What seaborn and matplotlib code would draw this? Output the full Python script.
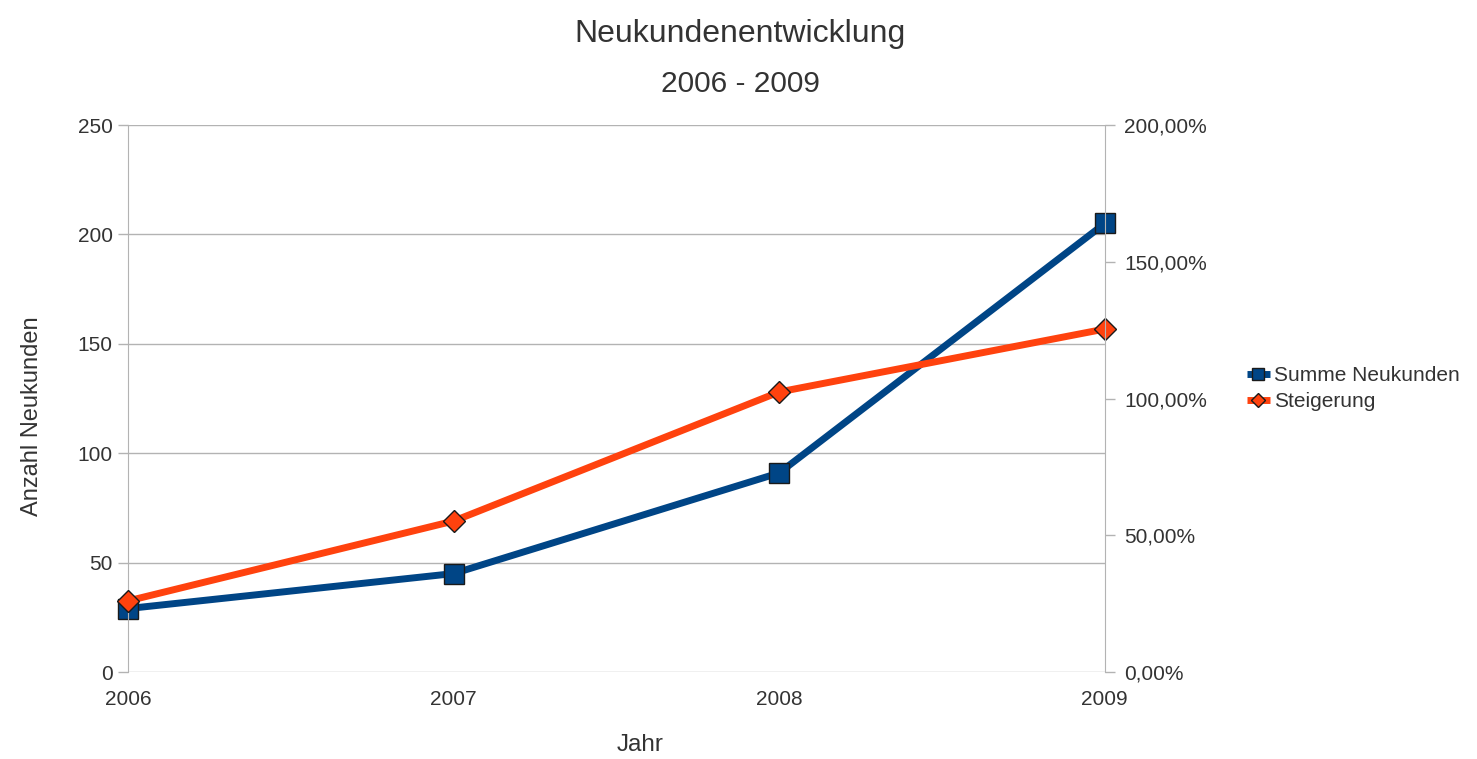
import matplotlib
matplotlib.use("Agg")
import matplotlib.pyplot as plt
import pandas as pd
import seaborn as sns
from matplotlib.ticker import FuncFormatter

# Data
jahre = [2006, 2007, 2008, 2009]
summe_neukunden = [29, 45, 91, 205]
steigerung = [26.0, 55.2, 102.4, 125.4]  # percent

df = pd.DataFrame({'Jahr': jahre, 'Summe Neukunden': summe_neukunden, 'Steigerung': steigerung})

blue = '#004586'
orange = '#ff420e'
grid_col = '#b3b3b3'
text_col = '#333333'

sns.set_style('white')
plt.rcParams['font.family'] = ['Liberation Sans', 'DejaVu Sans']

fig = plt.figure(figsize=(14.77, 7.59), dpi=100)
ax = fig.add_axes([0.0867, 0.1146, 0.6613, 0.7207])
ax2 = ax.twinx()

sns.lineplot(data=df, x='Jahr', y='Summe Neukunden', ax=ax, color=blue, lw=5,
             marker='s', markersize=14, markeredgecolor='#1a1a1a', markeredgewidth=1,
             label='Summe Neukunden', legend=False, clip_on=False, solid_capstyle='butt')
sns.lineplot(data=df, x='Jahr', y='Steigerung', ax=ax2, color=orange, lw=5,
             marker='D', markersize=11, markeredgecolor='#1a1a1a', markeredgewidth=1,
             label='Steigerung', legend=False, clip_on=False, solid_capstyle='butt')

ax.set_xlim(2006, 2009)
ax.set_ylim(0, 250)
ax2.set_ylim(0, 200)
ax.set_xticks(jahre)
ax.set_xticklabels([str(j) for j in jahre])
ax.set_yticks(range(0, 251, 50))
ax2.set_yticks(range(0, 201, 50))
ax2.yaxis.set_major_formatter(FuncFormatter(lambda v, p: f'{v:.2f}%'.replace('.', ',')))

ax.grid(axis='y', color=grid_col, lw=1)
ax.set_axisbelow(True)
for a in (ax, ax2):
    for s in a.spines.values():
        s.set_visible(False)
    a.tick_params(colors=grid_col, labelcolor=text_col, labelsize=15, length=7, width=1)
ax.spines['left'].set_visible(True)
ax.spines['left'].set_color(grid_col)
ax2.spines['right'].set_visible(True)
ax2.spines['right'].set_color(grid_col)
ax.tick_params(axis='x', direction='out', pad=6)
ax.tick_params(axis='y', pad=4)
ax2.tick_params(axis='y', pad=7)

ax.set_xlabel('Jahr', fontsize=17.5, color=text_col)
ax.xaxis.set_label_coords(0.524, -0.113)
ax.set_ylabel('Anzahl Neukunden', fontsize=17, color=text_col)
ax.yaxis.set_label_coords(-0.087, 0.468)
ax2.set_ylabel('')

fig.text(0.501, 0.9447, 'Neukundenentwicklung', ha='center', va='baseline', fontsize=23, color=text_col)
fig.text(0.501, 0.8788, '2006 - 2009', ha='center', va='baseline', fontsize=21.5, color=text_col)

h1, l1 = ax.get_legend_handles_labels()
h2, l2 = ax2.get_legend_handles_labels()
fig.legend(h1 + h2, l1 + l2, loc='center left', bbox_to_anchor=(0.8315, 0.488), frameon=False,
           fontsize=15, handlelength=1.1, handletextpad=0.2, labelspacing=0.35,
           labelcolor=text_col, markerscale=0.62)

fig.savefig('out.png', dpi=100)
